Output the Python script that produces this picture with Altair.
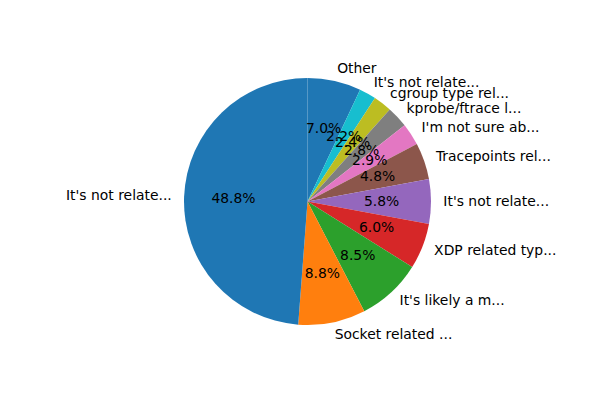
import altair as alt
import pandas as pd

# Slices in clockwise order starting at 12 o'clock
labels = ["Other", "It's not relate...", "cgroup type rel...", "kprobe/ftrace l...",
          "I'm not sure ab...", "Tracepoints rel...", "It's not relate...",
          "XDP related typ...", "It's likely a m...", "Socket related ...",
          "It's not relate..."]
values = [7.0, 2.2, 2.4, 2.8, 2.9, 4.8, 5.8, 6.0, 8.5, 8.8, 48.8]
palette = ["#1f77b4", "#17becf", "#bcbd22", "#7f7f7f", "#e377c2", "#8c564b",
           "#9467bd", "#d62728", "#2ca02c", "#ff7f0e", "#1f77b4"]

df = pd.DataFrame({"label": labels, "pct": values, "idx": list(range(len(labels)))})

CX, CY, R = 299.5, 193.5, 123.5
FONT = "DejaVu Sans"
FS = 13.9

theta_scale = alt.Scale(domain=[0, 100], range=[0, 6.283185307179586])

base = alt.Chart(df).transform_window(
    cum_end="sum(pct)", sort=[alt.SortField("idx")]
).transform_calculate(
    cum_start="datum.cum_end - datum.pct",
    mid="datum.cum_end - datum.pct / 2",
    txt="format(datum.pct, '.1f') + '%'",
).transform_calculate(
    right="sin(datum.mid / 100 * 2 * PI) >= 0"
)

arcs = base.mark_arc(outerRadius=R).encode(
    theta=alt.Theta("cum_start:Q", scale=theta_scale),
    theta2="cum_end:Q",
    color=alt.Color("idx:N", scale=alt.Scale(domain=list(range(len(labels))), range=palette), legend=None),
    x=alt.value(CX), y=alt.value(CY),
)

pct_text = base.mark_text(font=FONT, fontSize=FS, color="black", baseline="middle", align="center").encode(
    theta=alt.Theta("mid:Q", scale=theta_scale),
    radius=alt.value(R * 0.6),
    text="txt:N",
    x=alt.value(CX), y=alt.value(CY),
)

lab_right = base.transform_filter("datum.right").mark_text(
    font=FONT, fontSize=FS, color="black", baseline="middle", align="left").encode(
    theta=alt.Theta("mid:Q", scale=theta_scale),
    radius=alt.value(R * 1.1),
    text="label:N",
    x=alt.value(CX), y=alt.value(CY),
)

lab_left = base.transform_filter("!datum.right").mark_text(
    font=FONT, fontSize=FS, color="black", baseline="middle", align="right").encode(
    theta=alt.Theta("mid:Q", scale=theta_scale),
    radius=alt.value(R * 1.1),
    text="label:N",
    x=alt.value(CX), y=alt.value(CY),
)

chart = alt.layer(arcs, pct_text, lab_right, lab_left).properties(
    width=580, height=380, autosize=alt.AutoSizeParams(type="none"), padding=0
).configure_view(stroke=None).resolve_scale(theta="shared")

chart.save("out.html", embed_options={"renderer": "svg", "actions": False})
